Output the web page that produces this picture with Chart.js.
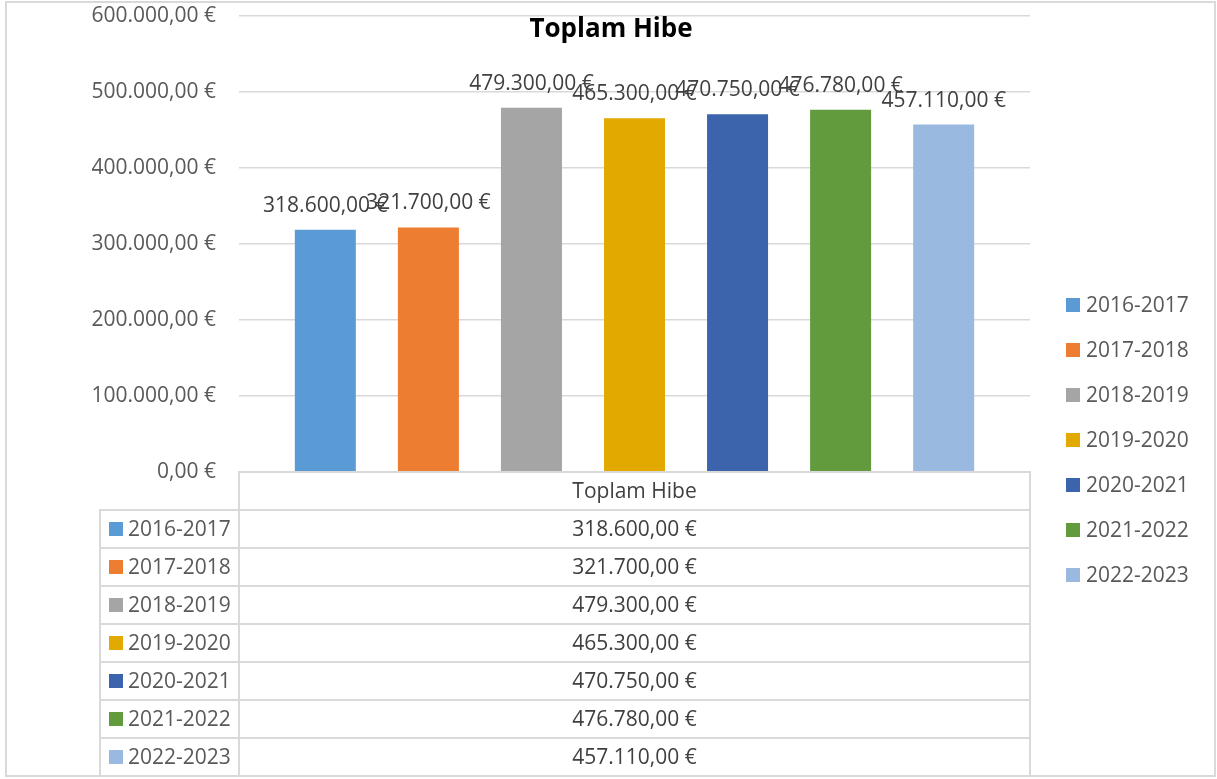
<!DOCTYPE html>
<html>
<head>
<meta charset="utf-8">
<title>Toplam Hibe</title>
<script src="https://cdn.jsdelivr.net/npm/chart.js@4.4.1/dist/chart.umd.min.js"></script>
<style>
    html, body { margin: 0; padding: 0; background: #fff; overflow: hidden; }
    #wrap { width: 1217px; height: 779px; position: relative; }
</style>
</head>
<body>
<div id="wrap"><canvas id="hibe-chart"></canvas></div>
<script>
// Data
const chartTitle = "Toplam Hibe";
const categoryName = "Toplam Hibe";
const seasons = ["2016-2017", "2017-2018", "2018-2019", "2019-2020", "2020-2021", "2021-2022", "2022-2023"];
const grantValues = [318600, 321700, 479300, 465300, 470750, 476780, 457110];
const seasonColors = ["#5B9BD5", "#ED7D31", "#A5A5A5", "#E2AA00", "#3C64AD", "#629B3D", "#99B9E0"];
const yTickValues = [0, 100000, 200000, 300000, 400000, 500000, 600000];

const FONT = "'Open Sans', 'Liberation Sans', sans-serif";
const LINE = "#d9d9d9";

// 318600 -> "318.600,00 €"
function euro(v) {
    let parts = v.toFixed(2).split(".");
    let intPart = parts[0].replace(/\B(?=(\d{3})+(?!\d))/g, ".");
    return intPart + "," + parts[1] + " €";
}

// Title, data labels, legend, data table and frame
const excelLook = {
    id: "excelLook",
    afterDraw: function (chart) {
        const ctx = chart.ctx;
        const area = chart.chartArea;
        const yScale = chart.scales.y;
        ctx.save();

        // outer frame
        ctx.strokeStyle = LINE;
        ctx.lineWidth = 2;
        ctx.strokeRect(6, 2, 1209, 774);

        // title
        ctx.fillStyle = "#000";
        ctx.font = "bold 26px " + FONT;
        ctx.textAlign = "center";
        ctx.textBaseline = "middle";
        ctx.fillText(chartTitle, 611, 30);

        // value labels above bars
        ctx.font = "21px " + FONT;
        ctx.fillStyle = "#404040";
        grantValues.forEach(function (v, i) {
            let bar = chart.getDatasetMeta(i).data[0];
            ctx.fillText(euro(v), bar.x, bar.y - 24);
        });

        // legend on the right
        ctx.textAlign = "left";
        seasons.forEach(function (s, i) {
            let cy = 305 + i * 45;
            ctx.fillStyle = seasonColors[i];
            ctx.fillRect(1066, cy - 7, 14, 14);
            ctx.fillStyle = "#595959";
            ctx.fillText(s, 1086, cy + 1);
        });

        // data table
        let top = yScale.getPixelForValue(0);
        let rowH = 38;
        let colL = 100;
        let colM = area.left;
        let colR = area.right;
        let midX = (colM + colR) / 2;
        ctx.strokeStyle = LINE;
        ctx.lineWidth = 2;
        ctx.strokeRect(colM, top, colR - colM, rowH);
        ctx.fillStyle = "#404040";
        ctx.textAlign = "center";
        ctx.fillText(categoryName, midX, top + rowH / 2 + 1);

        seasons.forEach(function (s, i) {
            let y0 = top + rowH * (i + 1);
            ctx.strokeStyle = LINE;
            ctx.strokeRect(colL, y0, colM - colL, rowH);
            ctx.strokeRect(colM, y0, colR - colM, rowH);
            ctx.fillStyle = seasonColors[i];
            ctx.fillRect(109, y0 + rowH / 2 - 7, 14, 14);
            ctx.fillStyle = "#595959";
            ctx.textAlign = "left";
            ctx.fillText(s, 128, y0 + rowH / 2 + 1);
            ctx.fillStyle = "#404040";
            ctx.textAlign = "center";
            ctx.fillText(euro(grantValues[i]), midX, y0 + rowH / 2 + 1);
        });

        ctx.restore();
    }
};

const datasets = seasons.map(function (s, i) {
    return {
        label: s,
        data: [grantValues[i]],
        backgroundColor: seasonColors[i],
        borderWidth: 0,
        categoryPercentage: 0.912,
        barPercentage: 0.592
    };
});

const ctx1 = document.getElementById("hibe-chart").getContext("2d");
const hibeChart = new Chart(ctx1, {
    type: "bar",
    data: {
        labels: [categoryName],
        datasets: datasets
    },
    options: {
        responsive: true,
        maintainAspectRatio: false,
        animation: false,
        layout: {
            padding: { left: 0, top: 16, right: 187, bottom: 307 }
        },
        plugins: {
            legend: { display: false },
            title: { display: false },
            tooltip: { enabled: false }
        },
        scales: {
            x: { display: false },
            y: {
                min: 0,
                max: 600000,
                afterBuildTicks: function (scale) {
                    scale.ticks = yTickValues.map(function (v) { return { value: v }; });
                },
                afterFit: function (scale) {
                    scale.width = 239;
                    scale.paddingTop = 0;
                    scale.paddingBottom = 0;
                },
                border: { display: false },
                grid: { color: LINE, lineWidth: 1.5, drawTicks: false },
                ticks: {
                    padding: 23,
                    color: "#595959",
                    font: { family: FONT, size: 21 },
                    callback: function (v) { return euro(v); }
                }
            }
        }
    },
    plugins: [excelLook]
});
</script>
</body>
</html>
